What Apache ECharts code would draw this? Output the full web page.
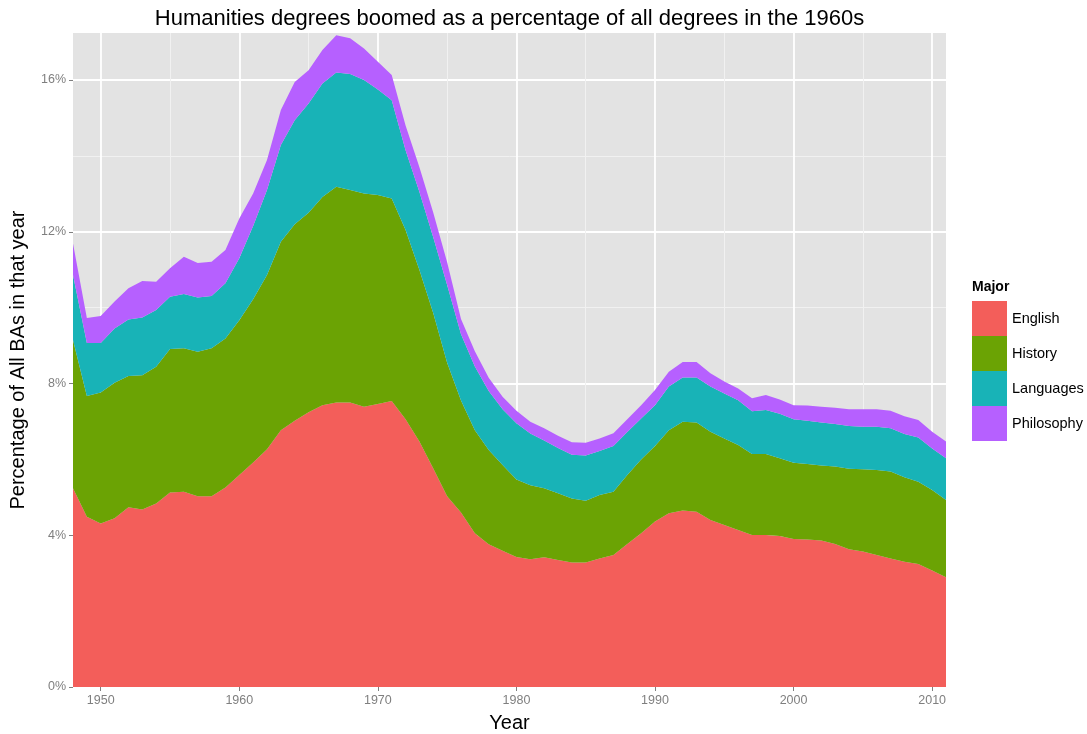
<!DOCTYPE html>
<html>
<head>
<meta charset="utf-8">
<script src="https://cdn.jsdelivr.net/npm/echarts@6/dist/echarts.min.js"></script>
<style>
html,body{margin:0;padding:0;background:#fff;}
#chart{width:1087px;height:734px;}
</style>
</head>
<body>
<div id="chart"></div>
<script>
const years = [];
for (let y = 1948; y <= 2011; y++) years.push(String(y));

const english = [5.24,4.49,4.31,4.45,4.74,4.68,4.84,5.13,5.15,5.03,5.03,5.26,5.59,5.92,6.27,6.77,7.02,7.24,7.43,7.50,7.50,7.39,7.46,7.54,7.06,6.47,5.76,5.03,4.60,4.05,3.76,3.59,3.43,3.37,3.42,3.35,3.28,3.28,3.39,3.48,3.77,4.05,4.36,4.58,4.65,4.62,4.40,4.27,4.14,4.01,4.01,3.98,3.90,3.89,3.86,3.77,3.63,3.57,3.48,3.39,3.30,3.24,3.07,2.89];
const history = [3.91,3.18,3.45,3.57,3.46,3.54,3.60,3.78,3.78,3.81,3.90,3.93,4.08,4.30,4.59,4.97,5.18,5.26,5.49,5.69,5.60,5.62,5.51,5.34,4.99,4.52,4.09,3.52,2.95,2.72,2.49,2.26,2.04,1.95,1.82,1.76,1.69,1.63,1.67,1.67,1.82,1.95,1.99,2.19,2.34,2.35,2.33,2.28,2.24,2.13,2.13,2.05,2.01,1.99,1.98,2.04,2.12,2.17,2.24,2.29,2.23,2.17,2.12,2.04];
const languages = [1.71,1.40,1.31,1.43,1.49,1.52,1.50,1.38,1.43,1.43,1.38,1.45,1.63,1.93,2.24,2.55,2.74,2.88,2.99,3.01,3.06,2.99,2.78,2.59,2.10,2.06,2.00,2.05,1.75,1.68,1.55,1.47,1.48,1.36,1.26,1.19,1.15,1.19,1.16,1.20,1.13,1.08,1.08,1.15,1.17,1.19,1.19,1.19,1.18,1.13,1.16,1.17,1.15,1.14,1.13,1.12,1.13,1.12,1.14,1.14,1.14,1.17,1.10,1.10];
const philosophy = [0.83,0.66,0.71,0.71,0.82,0.96,0.74,0.75,0.98,0.91,0.90,0.88,1.05,0.86,0.79,0.92,1.01,0.88,0.88,0.98,0.94,0.83,0.73,0.66,0.65,0.65,0.65,0.60,0.40,0.40,0.35,0.33,0.33,0.31,0.32,0.32,0.33,0.34,0.33,0.34,0.34,0.35,0.40,0.39,0.41,0.41,0.35,0.31,0.31,0.34,0.40,0.38,0.37,0.40,0.42,0.43,0.44,0.46,0.46,0.46,0.47,0.46,0.44,0.44];

const majors = ['English','History','Languages','Philosophy'];
const colors = ['#F35E5A','#6BA304','#18B3B7','#B660FF'];
const yMajorTicks = [0,4,8,12,16];
const yMinorTicks = [2,6,10,14];

const seriesValues = [english, history, languages, philosophy];

const chart = echarts.init(document.getElementById('chart'), null, {renderer:'canvas'});

const GRID = {left:73, top:33, width:873, height:654};
const FONT = '"Liberation Sans", Arial, sans-serif';
const isMajorYear = (i, v) => (+v) % 10 === 0;
const isMinorYear = (i, v) => (+v) % 10 === 5;

chart.setOption({
  animation:false,
  backgroundColor:'#FFFFFF',
  textStyle:{fontFamily:FONT},
  graphic:[
    {type:'rect', z:-10, silent:true, shape:{x:GRID.left, y:GRID.top, width:GRID.width, height:GRID.height}, style:{fill:'#E3E3E3'}},
    {type:'text', x:GRID.left + GRID.width/2, y:19, silent:true, style:{text:'Humanities degrees boomed as a percentage of all degrees in the 1960s', fill:'#000', font:'22px ' + FONT, align:'center', verticalAlign:'middle'}},
    {type:'text', x:972, y:287, silent:true, style:{text:'Major', fill:'#000', font:'bold 14px ' + FONT, align:'left', verticalAlign:'middle'}}
  ],
  grid:{left:GRID.left, top:GRID.top, width:GRID.width, height:GRID.height, containLabel:false, outerBoundsMode:'none'},
  legend:{
    orient:'vertical', left:972, top:301, padding:0, itemWidth:35, itemHeight:35, itemGap:0,
    icon:'rect', data:majors, selectedMode:false,
    textStyle:{fontSize:14.5, color:'#000'},
    itemStyle:{borderWidth:0}
  },
  xAxis:[{
    type:'category', data:years, boundaryGap:false,
    name:'Year', nameLocation:'middle', nameGap:26,
    nameTextStyle:{fontSize:20, color:'#000'},
    axisLine:{show:false},
    axisTick:{show:true, interval:isMajorYear, length:4, lineStyle:{color:'#7F7F7F'}},
    axisLabel:{interval:isMajorYear, color:'#7F7F7F', fontSize:12.5, margin:7},
    splitLine:{show:true, interval:isMajorYear, lineStyle:{color:'#FFFFFF', width:1.8}}
  },{
    type:'category', data:years, boundaryGap:false, position:'bottom',
    axisLine:{show:false}, axisTick:{show:false}, axisLabel:{show:false},
    splitLine:{show:true, interval:isMinorYear, lineStyle:{color:'#F1F1F1', width:1}}
  }],
  yAxis:[{
    type:'value', min:0, max:17.24,
    name:'Percentage of All BAs in that year', nameLocation:'middle', nameGap:45,
    nameTextStyle:{fontSize:20, color:'#000'},
    axisLine:{show:false},
    axisTick:{show:true, customValues:yMajorTicks, length:4, lineStyle:{color:'#7F7F7F'}},
    axisLabel:{customValues:yMajorTicks, color:'#7F7F7F', fontSize:12.5, margin:7, formatter:'{value}%'},
    splitLine:{show:true, lineStyle:{color:'#FFFFFF', width:1.8}}
  },{
    type:'value', min:0, max:17.24, position:'left',
    axisLine:{show:false},
    axisTick:{show:false, customValues:yMinorTicks},
    axisLabel:{show:false, customValues:yMinorTicks},
    splitLine:{show:true, lineStyle:{color:'#F1F1F1', width:1}}
  }],
  series: majors.map((m, i) => ({
    name:m, type:'line', stack:'total', symbol:'none', smooth:false,
    xAxisIndex:0, yAxisIndex:0,
    lineStyle:{width:0}, areaStyle:{color:colors[i], opacity:1},
    itemStyle:{color:colors[i]},
    data: seriesValues[i]
  }))
});
</script>
</body>
</html>
